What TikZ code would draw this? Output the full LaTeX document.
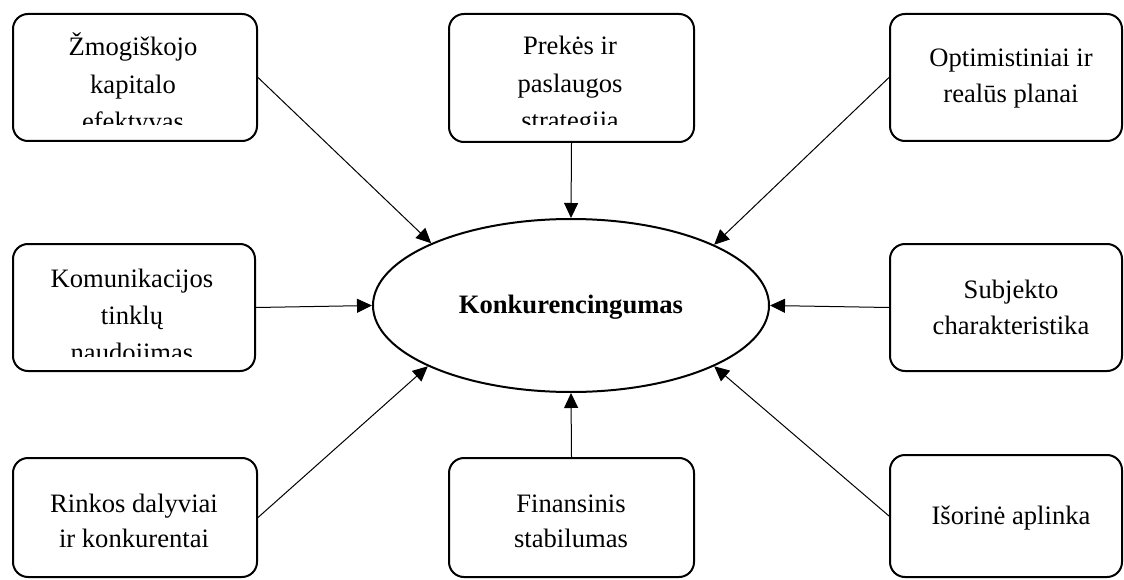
\documentclass[tikz,border=0pt]{standalone}
\usepackage{fontspec}
\setmainfont{Liberation Serif}
\usetikzlibrary{arrows.meta,shapes.geometric}

\tikzset{
  factor/.style={draw, line width=2pt, rounded corners=15pt, inner sep=0pt},
  core/.style={draw, ellipse, line width=2pt, inner sep=0pt,
    minimum width=396pt, minimum height=173pt},
  txt/.style={anchor=base, inner sep=0pt, font=\fontsize{26.6pt}{32pt}\selectfont},
  link/.style={line width=1pt, -{Triangle[length=15pt,width=14pt]}}
}

\begin{document}
\begin{tikzpicture}[x=1pt,y=-1pt]
\useasboundingbox (0,0) rectangle (1124,580);

% central ellipse
\node[core] (ell) at (571,305.5) {};
\node[txt, font=\fontsize{26.6pt}{32pt}\selectfont\bfseries] (core) at (571,313) {Konkurencingumas};

% factor boxes
\node[factor, minimum width=244pt, minimum height=127pt] (tl) at (135,77.5) {};
\node[factor, minimum width=245pt, minimum height=128pt] (tm) at (571.5,78) {};
\node[factor, minimum width=232pt, minimum height=127pt] (tr) at (1006,77.5) {};
\node[factor, minimum width=242pt, minimum height=127pt] (ml) at (134,307.5) {};
\node[factor, minimum width=232pt, minimum height=127pt] (mr) at (1006,307.5) {};
\node[factor, minimum width=244pt, minimum height=119pt] (bl) at (135,517.5) {};
\node[factor, minimum width=245pt, minimum height=119pt] (bm) at (571.5,517.5) {};
\node[factor, minimum width=232pt, minimum height=122pt] (br) at (1006,516) {};

% box texts (third lines run past the text area and are cut off)
\node[txt] (tl1) at (133,56) {Žmogiškojo};
\node[txt] (tl2) at (133,93.5) {kapitalo};
\begin{scope}
  \clip (13,14) rectangle (257,125);
  \node[txt] (tl3) at (133,131) {efektyvas};
\end{scope}

\node[txt] (tm1) at (570,55) {Prekės ir};
\node[txt] (tm2) at (570,92.5) {paslaugos};
\begin{scope}
  \clip (449,14) rectangle (694,125);
  \node[txt] (tm3) at (570,130) {strategija};
\end{scope}

\node[txt] (tr1) at (1011,67) {Optimistiniai ir};
\node[txt] (tr2) at (1011,103) {realūs planai};

\node[txt] (ml1) at (132,287) {Komunikacijos};
\node[txt] (ml2) at (132,324) {tinklų};
\begin{scope}
  \clip (13,244) rectangle (255,356);
  \node[txt] (ml3) at (132,361.5) {naudojimas};
\end{scope}

\node[txt] (mr1) at (1011,298) {Subjekto};
\node[txt] (mr2) at (1011,334) {charakteristika};

\node[txt] (bl1) at (134,512) {Rinkos dalyviai};
\node[txt] (bl2) at (134,547) {ir konkurentai};

\node[txt] (bm1) at (571,512) {Finansinis};
\node[txt] (bm2) at (571,547) {stabilumas};

\node[txt] (br1) at (1011,524) {Išorinė aplinka};

% connectors into the ellipse
\draw[link] (tl.east) -- (ell.156.4);
\draw[link] (tm.south) -- (ell.north);
\draw[link] (tr.west) -- (ell.23.4);
\draw[link] (ml.east) -- (ell.west);
\draw[link] (mr.west) -- (ell.east);
\draw[link] (bl.east) -- (ell.203.6);
\draw[link] (bm.north) -- (ell.south);
\draw[link] (br.west) -- (ell.-23.4);
\end{tikzpicture}
\end{document}
